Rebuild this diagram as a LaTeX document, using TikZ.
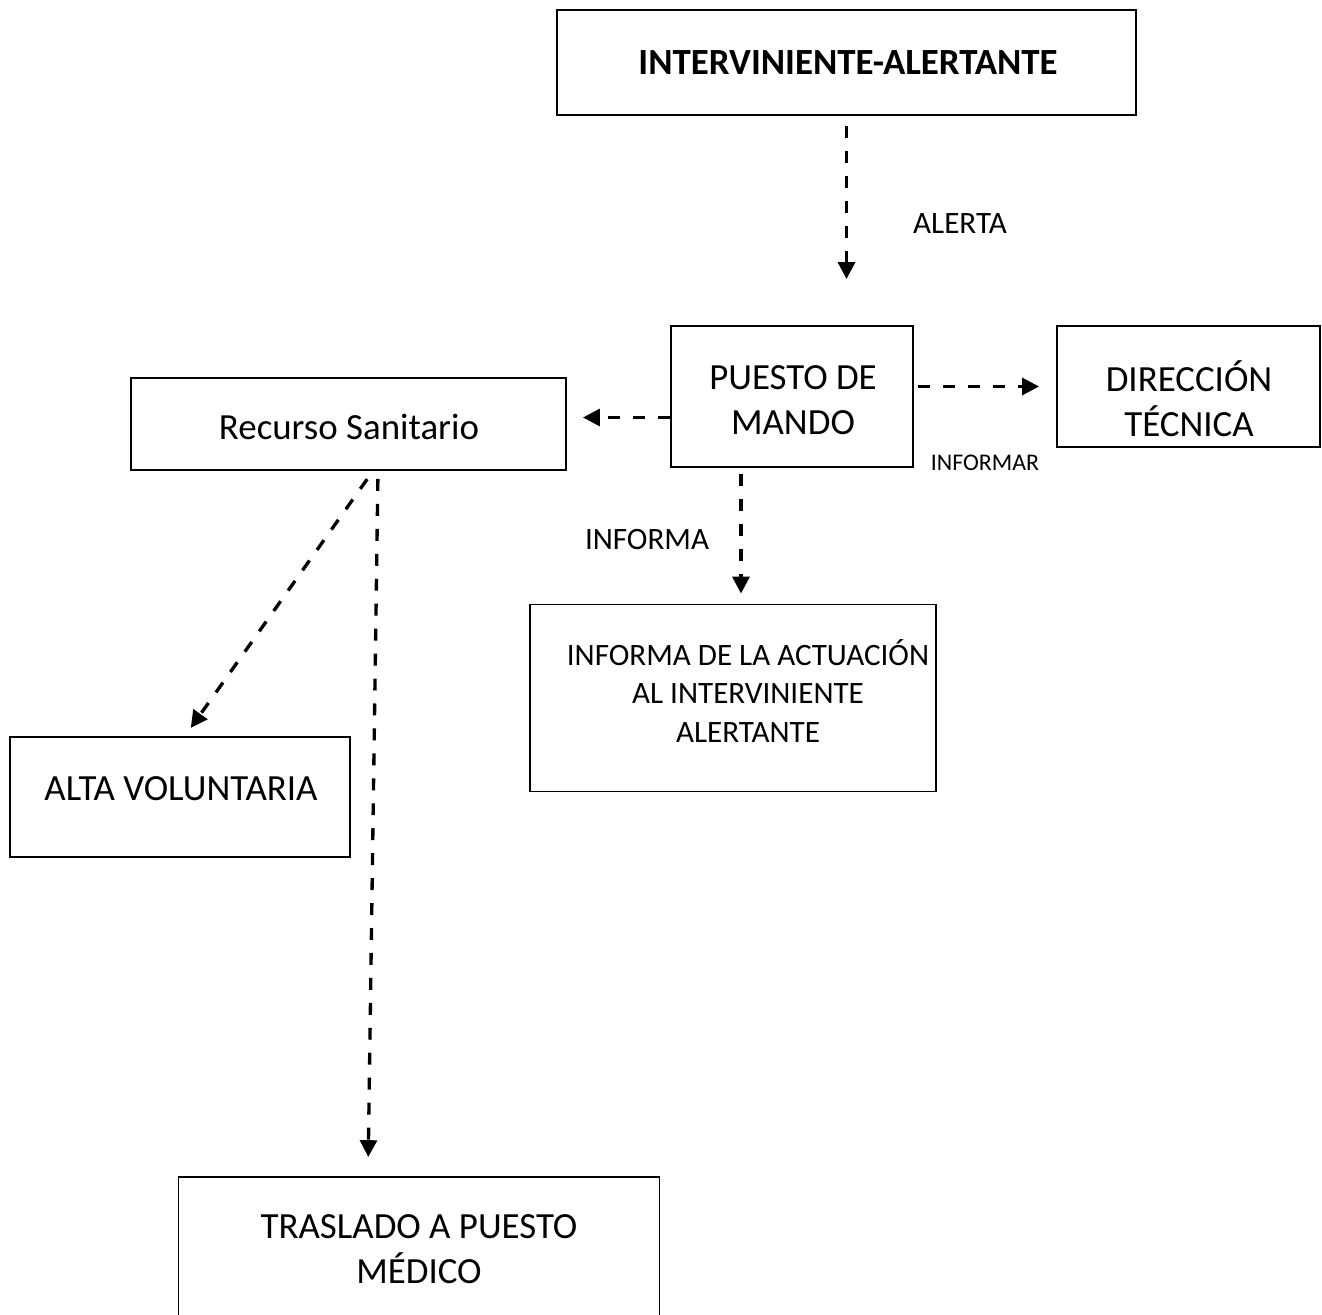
\documentclass[tikz,border=0pt]{standalone}
\usepackage{fontspec}
\setmainfont{Carlito}
\usetikzlibrary{arrows.meta,positioning}
\newlength{\pxu}\setlength{\pxu}{0.02cm}

\begin{document}
\begin{tikzpicture}[x=0.02cm,y=-0.02cm,
  box/.style={draw,line width=1.1pt,inner sep=0pt},
  flow/.style={line width=1.9pt,dash pattern=on 6.8pt off 7.4pt,-{Triangle[length=9.6pt,width=9.6pt]}},
  bigtxt/.style={font=\fontsize{21}{25.5}\selectfont,align=center,inner sep=0pt},
  midtxt/.style={font=\fontsize{17.7}{21.7}\selectfont,align=center,inner sep=0pt},
  smalltxt/.style={font=\fontsize{13.6}{16.6}\selectfont,inner sep=0pt}]
\useasboundingbox (0,0) rectangle (1322,1315);
\clip (0,0) rectangle (1322,1315);

% boxes
\node[box,minimum width=579\pxu,minimum height=105\pxu] (alertante) at (846.5,62.5) {};
\node[box,minimum width=242\pxu,minimum height=141\pxu] (puesto) at (792,396.5) {};
\node[box,minimum width=263\pxu,minimum height=121\pxu] (direccion) at (1188.5,386.5) {};
\node[box,minimum width=435\pxu,minimum height=92\pxu] (recurso) at (348.5,424) {};
\node[box,minimum width=406\pxu,minimum height=187\pxu] (actuacion) at (733,698) {};
\node[box,minimum width=340\pxu,minimum height=120\pxu] (alta) at (180,797) {};
\node[box,minimum width=481\pxu,minimum height=163\pxu] (traslado) at (419,1258.5) {};

% box texts
\node[bigtxt] (alertantetxt) at (848,63) {\bfseries INTERVINIENTE-ALERTANTE};
\node[bigtxt] (puestotxt) at (793,400) {PUESTO DE\\MANDO};
\node[bigtxt] (direcciontxt) at (1189,399) {DIRECCIÓN\\TÉCNICA};
\node[bigtxt] (recursotxt) at (349,427) {Recurso Sanitario};
\node[midtxt] (actuaciontxt) at (748,691) {INFORMA DE LA ACTUACIÓN\\AL INTERVINIENTE\\ALERTANTE};
\node[bigtxt] (altatxt) at (181,789) {ALTA VOLUNTARIA};
\node[bigtxt] (trasladotxt) at (419,1249) {TRASLADO A PUESTO\\MÉDICO};

% labels
\node[midtxt] (alerta) at (960,224) {ALERTA};
\node[smalltxt] (informar) at (985,463) {INFORMAR};
\node[midtxt] (informa) at (647,540) {INFORMA};

% connectors
\draw[flow,shorten <=10\pxu,shorten >=46\pxu] (alertante.south) -- (alertante.south |- puesto.north);
\draw[flow,shorten <=4\pxu,shorten >=17\pxu] (puesto.east |- direccion.west) -- (direccion.west);
\draw[flow,shorten >=16\pxu] ([yshift=-21\pxu]puesto.west) -- ([yshift=-21\pxu]puesto.west -| recurso.east);
\draw[flow,shorten <=6\pxu,shorten >=10\pxu] ([xshift=-51\pxu]puesto.south) -- ([xshift=-51\pxu]puesto.south |- actuacion.north);
\draw[flow,shorten <=10\pxu,shorten >=10\pxu] ([xshift=24.5\pxu]recurso.south) -- ([xshift=5\pxu]alta.north);
\draw[flow,shorten <=8\pxu,shorten >=19\pxu] ([xshift=29.5\pxu]recurso.south) -- ([xshift=-51\pxu]traslado.north);

\end{tikzpicture}
\end{document}
